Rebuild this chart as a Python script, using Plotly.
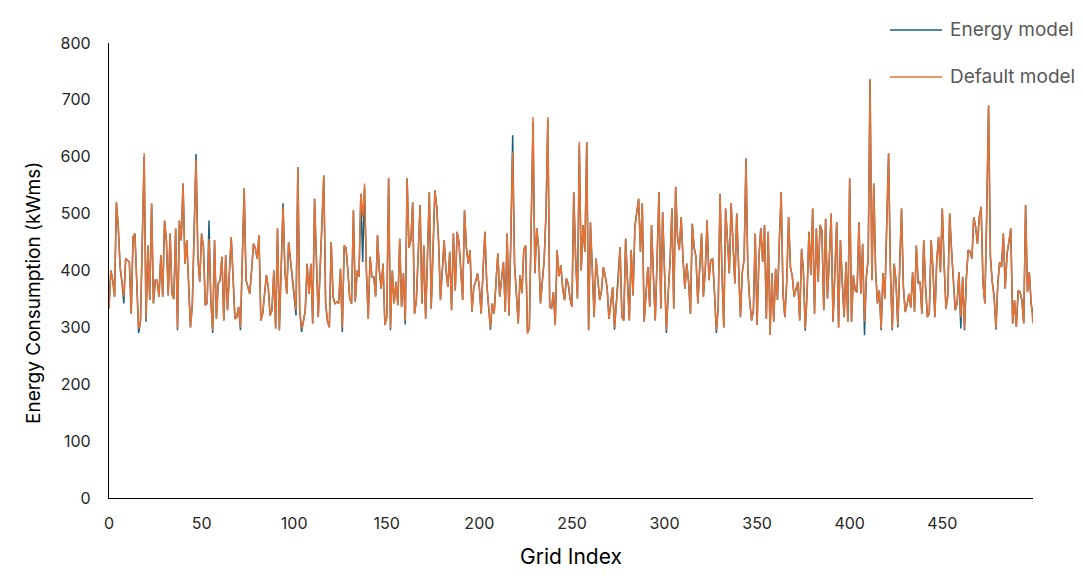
import plotly.graph_objects as go

grid_index = list(range(500))

default_model = [
    333,400,383,354,520,477,406,380,354,421,418,415,324,459,465,380,298,310,450,606,315,444,348,518,342,
    383,383,354,427,354,488,453,356,465,359,350,474,298,488,453,553,412,453,380,300,340,470,595,424,380,
    465,441,339,342,456,348,295,453,315,377,383,424,312,427,330,400,459,389,315,318,336,300,420,544,383,
    371,359,400,447,440,421,462,312,324,360,392,371,321,330,400,298,474,295,424,512,400,359,450,418,395,
    365,330,582,330,298,310,330,412,359,412,307,526,420,318,400,500,567,342,310,300,450,354,342,345,342,
    403,300,444,440,400,351,342,506,345,400,389,535,494,553,400,315,424,389,389,354,462,400,368,412,304,
    318,562,298,400,342,380,339,456,336,395,312,562,440,453,520,324,348,430,515,342,444,315,420,538,333,
    420,541,512,450,348,400,453,400,371,433,330,465,365,468,450,400,348,506,440,412,436,327,371,380,395,
    371,324,400,468,377,340,300,342,324,380,430,354,380,415,327,465,321,450,608,412,360,307,392,360,436,
    444,289,298,480,670,395,474,440,342,380,418,500,670,336,333,362,304,436,390,409,370,348,386,377,350,
    336,538,420,351,626,400,480,433,626,295,485,400,318,421,380,348,365,406,390,370,315,350,371,300,340,
    380,441,318,312,456,380,312,436,356,477,500,526,433,518,310,360,406,336,480,390,312,420,538,333,503,
    400,295,360,415,509,333,547,459,436,494,420,368,412,380,324,482,440,424,342,400,465,354,400,488,383,
    418,421,360,295,336,535,400,300,509,447,395,518,440,377,500,400,318,397,420,597,400,348,312,330,465,
    304,424,474,415,480,315,468,286,395,310,403,348,450,538,359,318,380,494,406,390,354,365,380,312,438,
    400,298,360,468,392,509,324,474,380,480,470,330,491,351,420,500,310,390,485,300,453,380,318,415,310,
    562,310,392,365,362,485,359,447,310,389,420,737,383,553,400,342,365,298,395,350,480,606,400,298,412,
    383,304,420,509,371,327,340,359,335,397,327,444,377,380,324,453,370,318,325,453,400,318,415,459,397,
    509,412,333,356,500,436,380,330,342,397,318,389,298,386,436,433,421,494,477,447,494,512,377,342,500,
    690,424,380,354,298,377,415,406,465,368,430,450,474,307,348,301,365,362,348,307,515,362,397,342,307,
]

energy_model = [
    333,400,383,354,520,477,406,380,342,421,418,415,324,459,465,380,290,310,450,600,310,444,348,518,342,
    383,383,354,427,354,488,453,356,465,359,350,474,295,488,453,553,412,453,380,300,340,470,605,424,380,
    465,441,339,342,488,348,290,453,315,377,383,424,312,427,330,400,459,389,315,318,336,295,420,544,383,
    371,359,400,447,440,421,462,312,324,360,392,371,321,330,400,298,474,295,424,518,400,359,450,418,395,
    365,321,582,330,292,310,330,412,359,412,307,526,420,318,400,500,567,342,310,300,450,354,342,345,342,
    403,292,444,440,400,351,342,506,345,400,389,535,415,545,400,315,424,389,389,354,462,400,368,412,304,
    318,562,295,400,342,380,339,456,336,395,305,562,440,453,520,324,348,430,515,342,444,315,420,538,333,
    420,541,512,450,348,400,453,400,371,433,330,465,365,468,450,400,348,506,440,412,436,327,371,380,395,
    371,324,400,468,377,340,296,342,324,380,430,354,380,415,327,465,321,450,638,412,360,307,392,360,436,
    444,292,298,480,660,395,474,440,342,380,418,500,665,336,333,362,304,436,390,409,370,348,386,377,350,
    336,538,420,351,620,400,480,433,626,295,485,400,318,421,380,348,365,406,390,370,315,350,371,296,340,
    380,441,318,312,456,380,312,436,356,477,500,526,433,518,310,360,406,336,480,390,312,420,538,333,503,
    400,290,360,415,509,333,547,459,436,494,420,368,412,380,324,482,440,424,342,400,465,354,400,488,383,
    418,421,360,290,336,535,400,300,509,447,395,518,440,377,500,400,318,397,420,597,400,348,312,330,465,
    304,424,474,415,480,315,468,288,395,310,403,348,450,538,359,318,380,494,406,390,354,365,380,312,438,
    400,294,360,468,392,509,324,474,380,480,470,330,491,351,420,500,310,390,485,300,453,380,318,415,310,
    562,310,392,365,362,485,359,447,286,389,420,735,383,553,400,342,365,295,395,350,480,606,400,295,412,
    383,300,420,509,371,327,340,359,335,397,327,444,377,380,324,453,370,318,325,453,400,318,415,459,397,
    509,412,333,356,500,436,380,330,342,397,298,389,295,386,436,433,421,494,477,447,494,512,377,342,500,
    690,424,380,354,296,377,415,406,465,368,430,450,474,307,348,301,365,362,348,307,515,362,397,342,321,
]

series_names = ["Energy model", "Default model"]
series_colors = ["#156082", "#E97132"]
x_ticks = [0, 50, 100, 150, 200, 250, 300, 350, 400, 450]
y_ticks = [0, 100, 200, 300, 400, 500, 600, 700, 800]

fig = go.Figure()
for name, color, values in zip(series_names, series_colors, [energy_model, default_model]):
    fig.add_trace(go.Scatter(
        x=grid_index, y=values, mode="lines", name=name,
        line=dict(color=color, width=1.5),
    ))

# legend drawn as line samples + text (positioned like the original chart's legend)
legend_y = [1.0286, 0.9253]
shapes = []
annotations = []
for name, color, ly in zip(series_names, series_colors, legend_y):
    shapes.append(dict(
        type="line", xref="paper", yref="paper",
        x0=0.8452, x1=0.9015, y0=ly, y1=ly,
        line=dict(color=color, width=1.5),
    ))
    annotations.append(dict(
        text=name, xref="paper", yref="paper",
        x=0.908, y=ly, xanchor="left", yanchor="middle",
        showarrow=False, font=dict(size=19, color="#595959"),
    ))

annotations.append(dict(
    text="Energy Consumption (kWms)", xref="paper", yref="paper",
    x=-0.0823, y=0.4505, xanchor="center", yanchor="middle",
    textangle=-90, showarrow=False,
    font=dict(size=19, color="#000000"),
))
shapes.append(dict(
    type="line", xref="paper", yref="paper",
    x0=-0.1104, x1=-0.1104, y0=-0.2, y1=1.1,
    line=dict(color="#d9d9d9", width=1.5),
))

fig.update_layout(
    width=1083, height=579,
    margin=dict(l=101, r=58, t=35, b=89),
    paper_bgcolor="white", plot_bgcolor="white",
    font=dict(family="Inter, Open Sans, sans-serif", color="#262626"),
    showlegend=False,
    xaxis=dict(
        range=[0, 499], tickmode="array", tickvals=x_ticks,
        showgrid=False, zeroline=False,
        showline=True, linecolor="#000000", linewidth=1.2,
        ticks="outside", ticklen=11, tickcolor="rgba(0,0,0,0)",
        tickfont=dict(size=16, color="#262626"),
        title=dict(text="Grid Index", font=dict(size=21, color="#000000"), standoff=17),
    ),
    yaxis=dict(
        range=[0, 800], tickmode="array", tickvals=y_ticks,
        showgrid=False, zeroline=False,
        showline=True, linecolor="#000000", linewidth=1.2,
        ticks="outside", ticklen=14, tickcolor="rgba(0,0,0,0)",
        tickfont=dict(size=16, color="#262626"),
    ),
    annotations=annotations,
    shapes=shapes,
)

fig.write_html("out.html")
